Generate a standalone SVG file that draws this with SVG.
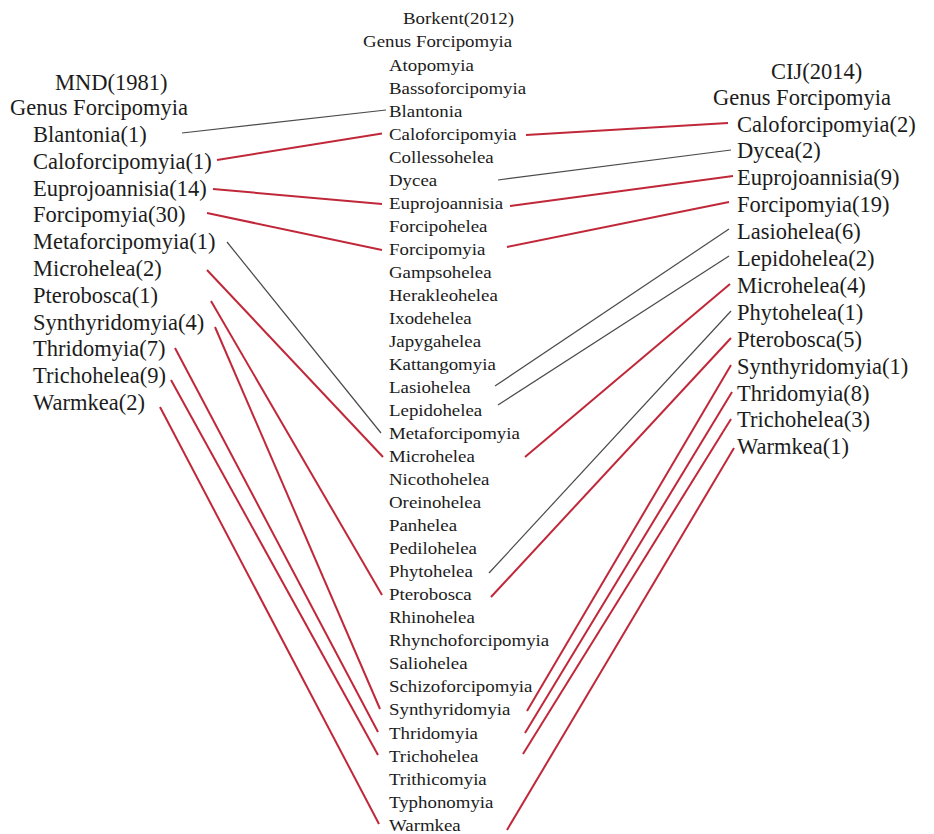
<svg xmlns="http://www.w3.org/2000/svg" width="934" height="834" viewBox="0 0 934 834" font-family="'Liberation Serif', 'DejaVu Serif', serif">
<style>
  text { font-family: "Liberation Serif", "DejaVu Serif", serif; fill: #1c1c1c; }
  .big { font-size: 22.5px; }
  .mid { font-size: 17px; }
  .red { stroke: #c0283a; stroke-width: 2; fill: none; }
  .gray { stroke: #4a4a4a; stroke-width: 1.2; fill: none; }
</style>
<rect width="934" height="834" fill="#ffffff"/>

<!-- Left column: MND(1981) -->
<g id="left-column">
  <g id="L-header"><text class="big" x="55" y="90">MND(1981)</text><text class="big" x="10" y="115">Genus Forcipomyia</text></g>
  <g id="L-Blantonia"><text class="big" x="33" y="142">Blantonia(1)</text></g>
  <g id="L-Caloforcipomyia"><text class="big" x="33" y="168.8">Caloforcipomyia(1)</text></g>
  <g id="L-Euprojoannisia"><text class="big" x="33" y="195.6">Euprojoannisia(14)</text></g>
  <g id="L-Forcipomyia"><text class="big" x="33" y="222.4">Forcipomyia(30)</text></g>
  <g id="L-Metaforcipomyia"><text class="big" x="33" y="249.2">Metaforcipomyia(1)</text></g>
  <g id="L-Microhelea"><text class="big" x="33" y="276">Microhelea(2)</text></g>
  <g id="L-Pterobosca"><text class="big" x="33" y="302.8">Pterobosca(1)</text></g>
  <g id="L-Synthyridomyia"><text class="big" x="33" y="329.6">Synthyridomyia(4)</text></g>
  <g id="L-Thridomyia"><text class="big" x="33" y="356.4">Thridomyia(7)</text></g>
  <g id="L-Trichohelea"><text class="big" x="33" y="383.2">Trichohelea(9)</text></g>
  <g id="L-Warmkea"><text class="big" x="33" y="410">Warmkea(2)</text></g>
</g>

<!-- Middle column: Borkent(2012) -->
<g id="middle-column" transform="translate(389 0) scale(1.11 1)">
  <g id="M-header"><text class="mid" x="12.6" y="24">Borkent(2012)</text><text class="mid" x="-23.4" y="47.5">Genus Forcipomyia</text></g>
  <g id="M-Atopomyia"><text class="mid" x="0" y="70.7">Atopomyia</text></g>
  <g id="M-Bassoforcipomyia"><text class="mid" x="0" y="93.7">Bassoforcipomyia</text></g>
  <g id="M-Blantonia"><text class="mid" x="0" y="116.8">Blantonia</text></g>
  <g id="M-Caloforcipomyia"><text class="mid" x="0" y="139.8">Caloforcipomyia</text></g>
  <g id="M-Collessohelea"><text class="mid" x="0" y="162.8">Collessohelea</text></g>
  <g id="M-Dycea"><text class="mid" x="0" y="185.9">Dycea</text></g>
  <g id="M-Euprojoannisia"><text class="mid" x="0" y="208.9">Euprojoannisia</text></g>
  <g id="M-Forcipohelea"><text class="mid" x="0" y="231.9">Forcipohelea</text></g>
  <g id="M-Forcipomyia"><text class="mid" x="0" y="254.9">Forcipomyia</text></g>
  <g id="M-Gampsohelea"><text class="mid" x="0" y="278">Gampsohelea</text></g>
  <g id="M-Herakleohelea"><text class="mid" x="0" y="301">Herakleohelea</text></g>
  <g id="M-Ixodehelea"><text class="mid" x="0" y="324">Ixodehelea</text></g>
  <g id="M-Japygahelea"><text class="mid" x="0" y="347.1">Japygahelea</text></g>
  <g id="M-Kattangomyia"><text class="mid" x="0" y="370.1">Kattangomyia</text></g>
  <g id="M-Lasiohelea"><text class="mid" x="0" y="393.1">Lasiohelea</text></g>
  <g id="M-Lepidohelea"><text class="mid" x="0" y="416.2">Lepidohelea</text></g>
  <g id="M-Metaforcipomyia"><text class="mid" x="0" y="439.2">Metaforcipomyia</text></g>
  <g id="M-Microhelea"><text class="mid" x="0" y="462.2">Microhelea</text></g>
  <g id="M-Nicothohelea"><text class="mid" x="0" y="485.2">Nicothohelea</text></g>
  <g id="M-Oreinohelea"><text class="mid" x="0" y="508.3">Oreinohelea</text></g>
  <g id="M-Panhelea"><text class="mid" x="0" y="531.3">Panhelea</text></g>
  <g id="M-Pedilohelea"><text class="mid" x="0" y="554.3">Pedilohelea</text></g>
  <g id="M-Phytohelea"><text class="mid" x="0" y="577.4">Phytohelea</text></g>
  <g id="M-Pterobosca"><text class="mid" x="0" y="600.4">Pterobosca</text></g>
  <g id="M-Rhinohelea"><text class="mid" x="0" y="623.4">Rhinohelea</text></g>
  <g id="M-Rhynchoforcipomyia"><text class="mid" x="0" y="646.5">Rhynchoforcipomyia</text></g>
  <g id="M-Saliohelea"><text class="mid" x="0" y="669.5">Saliohelea</text></g>
  <g id="M-Schizoforcipomyia"><text class="mid" x="0" y="692.5">Schizoforcipomyia</text></g>
  <g id="M-Synthyridomyia"><text class="mid" x="0" y="715.5">Synthyridomyia</text></g>
  <g id="M-Thridomyia"><text class="mid" x="0" y="738.6">Thridomyia</text></g>
  <g id="M-Trichohelea"><text class="mid" x="0" y="761.6">Trichohelea</text></g>
  <g id="M-Trithicomyia"><text class="mid" x="0" y="784.6">Trithicomyia</text></g>
  <g id="M-Typhonomyia"><text class="mid" x="0" y="807.7">Typhonomyia</text></g>
  <g id="M-Warmkea"><text class="mid" x="0" y="830.7">Warmkea</text></g>
</g>

<!-- Right column: CIJ(2014) -->
<g id="right-column">
  <g id="R-header"><text class="big" x="771" y="79">CIJ(2014)</text><text class="big" x="713" y="105">Genus Forcipomyia</text></g>
  <g id="R-Caloforcipomyia"><text class="big" x="737" y="131.5">Caloforcipomyia(2)</text></g>
  <g id="R-Dycea"><text class="big" x="737" y="158.4">Dycea(2)</text></g>
  <g id="R-Euprojoannisia"><text class="big" x="737" y="185.3">Euprojoannisia(9)</text></g>
  <g id="R-Forcipomyia"><text class="big" x="737" y="212.2">Forcipomyia(19)</text></g>
  <g id="R-Lasiohelea"><text class="big" x="737" y="239.1">Lasiohelea(6)</text></g>
  <g id="R-Lepidohelea"><text class="big" x="737" y="266">Lepidohelea(2)</text></g>
  <g id="R-Microhelea"><text class="big" x="737" y="292.9">Microhelea(4)</text></g>
  <g id="R-Phytohelea"><text class="big" x="737" y="319.8">Phytohelea(1)</text></g>
  <g id="R-Pterobosca"><text class="big" x="737" y="346.7">Pterobosca(5)</text></g>
  <g id="R-Synthyridomyia"><text class="big" x="737" y="373.6">Synthyridomyia(1)</text></g>
  <g id="R-Thridomyia"><text class="big" x="737" y="400.5">Thridomyia(8)</text></g>
  <g id="R-Trichohelea"><text class="big" x="737" y="427.4">Trichohelea(3)</text></g>
  <g id="R-Warmkea"><text class="big" x="737" y="454.3">Warmkea(1)</text></g>
</g>

<!-- Connectors -->
<g id="connectors">
  <line class="gray" x1="182" y1="133" x2="386" y2="110"/>
  <line class="red" x1="217" y1="160" x2="382" y2="133.5"/>
  <line class="red" x1="213" y1="189" x2="382" y2="204"/>
  <line class="red" x1="207" y1="213" x2="382" y2="250"/>
  <line class="gray" x1="227" y1="242" x2="381" y2="433"/>
  <line class="red" x1="207" y1="270" x2="383" y2="457"/>
  <line class="red" x1="211" y1="301" x2="382" y2="595"/>
  <line class="red" x1="215" y1="327" x2="380" y2="709"/>
  <line class="red" x1="175" y1="348" x2="378" y2="732"/>
  <line class="red" x1="171" y1="380" x2="378" y2="755"/>
  <line class="red" x1="160" y1="407" x2="379" y2="824"/>
  <line class="red" x1="526" y1="135" x2="728" y2="123"/>
  <line class="gray" x1="498" y1="180" x2="731" y2="150"/>
  <line class="red" x1="510" y1="206" x2="733" y2="176"/>
  <line class="red" x1="507" y1="247" x2="729" y2="202"/>
  <line class="gray" x1="495" y1="386" x2="729" y2="229"/>
  <line class="gray" x1="498" y1="405" x2="729" y2="256"/>
  <line class="red" x1="525" y1="457" x2="730" y2="284"/>
  <line class="gray" x1="489" y1="573" x2="731" y2="311"/>
  <line class="red" x1="491" y1="597" x2="731" y2="338"/>
  <line class="red" x1="527" y1="711" x2="731" y2="365"/>
  <line class="red" x1="525" y1="733" x2="732" y2="392"/>
  <line class="red" x1="523" y1="754" x2="731" y2="419"/>
  <line class="red" x1="507" y1="830" x2="734" y2="448"/>
</g>
</svg>
